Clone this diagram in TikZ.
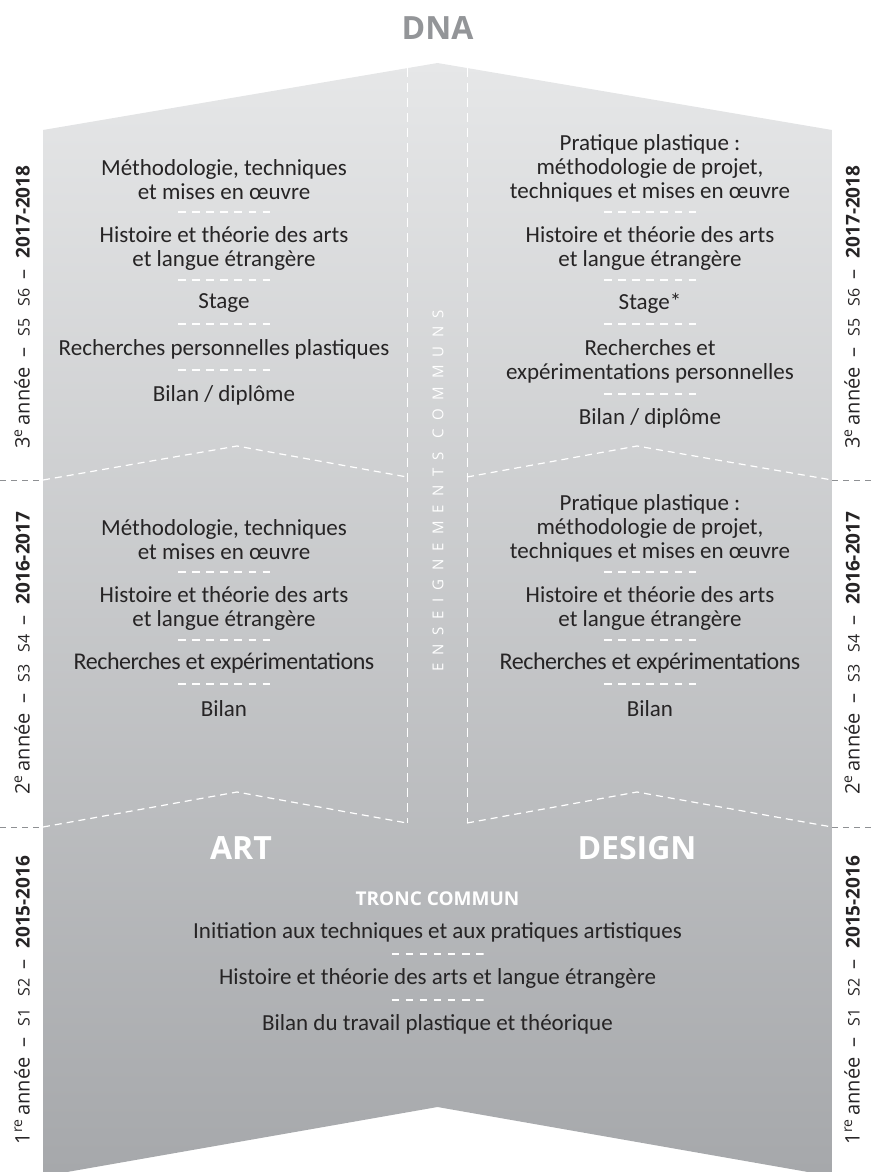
\documentclass[tikz,border=0pt]{standalone}
\usepackage{fontspec}
\usepackage{xcolor}
\setmainfont{Carlito}
\newfontfamily\headfont{Open Sans}
\newfontfamily\spacedfont[LetterSpace=55]{Open Sans}
\newfontfamily\tightfont[LetterSpace=-2]{Carlito}
\usepackage{tikz}
\usetikzlibrary{calc, positioning}

\definecolor{shapeTop}{HTML}{E6E7E8}
\definecolor{shapeBottom}{HTML}{A6A8AB}
\definecolor{textDark}{HTML}{262425}
\definecolor{dnaGray}{HTML}{939598}
\definecolor{bandGray}{HTML}{8E9093}

\tikzset{item/.style={font=\fontsize{23}{24}\selectfont, text=textDark, align=center, inner sep=0pt},
tight item/.style={item, font=\tightfont\fontsize{24}{24}\selectfont},
sep/.style={minimum width=92pt, minimum height=3pt, inner sep=0pt,
  path picture={\draw[white, line width=1.2pt, dash pattern=on 7.5pt off 6.6pt]
    (path picture bounding box.west) -- (path picture bounding box.east);}},
chevron line/.style={white, line width=1.2pt, dash pattern=on 7pt off 5pt},
axis line/.style={white, line width=1pt, dash pattern=on 9pt off 6pt},
band line/.style={bandGray, line width=1pt, dash pattern=on 6pt off 5pt},
side label/.style={rotate=90, inner sep=0pt, text=textDark, font=\headfont\fontsize{20}{20}\selectfont},
title/.style={inner sep=0pt, font=\headfont\fontsize{32}{32}\selectfont\bfseries}}

\newcommand{\yearlabel}[4]{#1\textsuperscript{#2}\,année\hspace{10pt}–\hspace{11pt}{\fontsize{16}{16}\selectfont #3}\hspace{9pt}–\hspace{11pt}{\fontsize{19}{19}\selectfont\bfseries #4}}

\begin{document}
\begin{tikzpicture}[x=1pt,y=-1pt]
\useasboundingbox (0,0) rectangle (871,1172);

%DRAWING SHAPE
  \coordinate (topL) at (43,130);
  \coordinate (apexT) at (437.5,63);
  \coordinate (topR) at (832,130);
  \coordinate (botR) at (832,1172);
  \coordinate (notchR) at (808,1172);
  \coordinate (apexB) at (437.5,1107);
  \coordinate (notchL) at (67,1172);
  \coordinate (botL) at (43,1172);
  \shade[top color=shapeTop, bottom color=shapeBottom]
    (topL) -- (apexT) -- (topR) -- (botR) -- (notchR) -- (apexB) -- (notchL) -- (botL) -- cycle;

%DRAWING DASHED LINES
  \coordinate (axisLTop) at (407,68);
  \coordinate (axisLBot) at (407,823);
  \coordinate (axisRTop) at (467,68);
  \coordinate (axisRBot) at (467,823);
  \draw[axis line] (axisLTop) -- (axisLBot);
  \draw[axis line] (axisRTop) -- (axisRBot);

  \coordinate (band3L) at (0,480);
  \coordinate (chev3La) at (43,480);
  \coordinate (chev3Lb) at (237,446);
  \coordinate (chev3Lc) at (407,477);
  \coordinate (chev3Ra) at (467,477);
  \coordinate (chev3Rb) at (637,446);
  \coordinate (chev3Rc) at (832,480);
  \coordinate (band3R) at (871,480);
  \draw[band line] (band3L) -- (chev3La);
  \draw[chevron line] (chev3La) -- (chev3Lb) -- (chev3Lc);
  \draw[chevron line] (chev3Ra) -- (chev3Rb) -- (chev3Rc);
  \draw[band line] (chev3Rc) -- (band3R);

  \coordinate (band2L) at (0,827);
  \coordinate (chev2La) at (43,827);
  \coordinate (chev2Lb) at (237,792);
  \coordinate (chev2Lc) at (407,823);
  \coordinate (chev2Ra) at (467,823);
  \coordinate (chev2Rb) at (637,792);
  \coordinate (chev2Rc) at (832,827);
  \coordinate (band2R) at (871,827);
  \draw[band line] (band2L) -- (chev2La);
  \draw[chevron line] (chev2La) -- (chev2Lb) -- (chev2Lc);
  \draw[chevron line] (chev2Ra) -- (chev2Rb) -- (chev2Rc);
  \draw[band line] (chev2Rc) -- (band2R);

%DRAWING TITLES
  \node[title,text=dnaGray] (dna) at (437.5,28) {DNA};
  \node[title,text=white] (art) at (241,848) {ART};
  \node[title,text=white] (design) at (637,848) {DESIGN};
  \node[rotate=90,anchor=east,inner sep=0pt,text=white,font=\spacedfont\fontsize{15}{15}\selectfont] (communs) at (438,310) {ENSEIGNEMENTS\hspace{14pt}COMMUNS};

%DRAWING YEAR 3
  \node[item] (art3Meth) at (224,180) {Méthodologie, techniques\\et mises en œuvre};
  \node[sep] (art3SepA) at (224,212) {};
  \node[item] (art3Hist) at (224,248.5) {Histoire et théorie des arts\\et langue étrangère};
  \node[sep] (art3SepB) at (224,280) {};
  \node[item] (art3Stage) at (224,303) {Stage};
  \node[sep] (art3SepC) at (224,324) {};
  \node[item] (art3Rech) at (224,349) {Recherches personnelles plastiques};
  \node[sep] (art3SepD) at (224,370) {};
  \node[item] (art3Bilan) at (224,395) {Bilan / diplôme};

  \node[item] (des3Prat) at (650,168) {Pratique plastique~:\\méthodologie de projet,\\techniques et mises en œuvre};
  \node[sep] (des3SepA) at (650,212) {};
  \node[item] (des3Hist) at (650,248.5) {Histoire et théorie des arts\\et langue étrangère};
  \node[sep] (des3SepB) at (650,280) {};
  \node[item] (des3Stage) at (650,303) {Stage*};
  \node[sep] (des3SepC) at (650,324) {};
  \node[item] (des3Rech) at (650,361) {Recherches et\\expérimentations personnelles};
  \node[sep] (des3SepD) at (650,394) {};
  \node[item] (des3Bilan) at (650,418) {Bilan / diplôme};

%DRAWING YEAR 2
  \node[item] (art2Meth) at (224,540) {Méthodologie, techniques\\et mises en œuvre};
  \node[sep] (art2SepA) at (224,572) {};
  \node[item] (art2Hist) at (224,608.5) {Histoire et théorie des arts\\et langue étrangère};
  \node[sep] (art2SepB) at (224,640) {};
  \node[tight item] (art2Rech) at (224,663) {Recherches et expérimentations};
  \node[sep] (art2SepC) at (224,684) {};
  \node[item] (art2Bilan) at (224,709) {Bilan};

  \node[item] (des2Prat) at (650,528) {Pratique plastique~:\\méthodologie de projet,\\techniques et mises en œuvre};
  \node[sep] (des2SepA) at (650,572) {};
  \node[item] (des2Hist) at (650,608.5) {Histoire et théorie des arts\\et langue étrangère};
  \node[sep] (des2SepB) at (650,640) {};
  \node[tight item] (des2Rech) at (650,663) {Recherches et expérimentations};
  \node[sep] (des2SepC) at (650,684) {};
  \node[item] (des2Bilan) at (650,709) {Bilan};

%DRAWING YEAR 1
  \node[inner sep=0pt,text=white,font=\headfont\fontsize{19}{19}\selectfont\bfseries] (tronc) at (437.5,899) {TRONC COMMUN};
  \node[item] (tronc1Init) at (437.5,932) {Initiation aux techniques et aux pratiques artistiques};
  \node[sep] (tronc1SepA) at (437.5,954) {};
  \node[item] (tronc1Hist) at (437.5,978) {Histoire et théorie des arts et langue étrangère};
  \node[sep] (tronc1SepB) at (437.5,1000) {};
  \node[item] (tronc1Bilan) at (437.5,1024) {Bilan du travail plastique et théorique};

%DRAWING YEAR LABELS
  \node[side label] (year3L) at (22,307) {\yearlabel{3}{e}{S5\hspace{12pt}S6}{2017-2018}};
  \node[side label] (year2L) at (22,653) {\yearlabel{2}{e}{S3\hspace{12pt}S4}{2016-2017}};
  \node[side label] (year1L) at (22,1000) {\yearlabel{1}{re}{S1\hspace{12pt}S2}{2015-2016}};
  \node[side label] (year3R) at (852,307) {\yearlabel{3}{e}{S5\hspace{12pt}S6}{2017-2018}};
  \node[side label] (year2R) at (852,653) {\yearlabel{2}{e}{S3\hspace{12pt}S4}{2016-2017}};
  \node[side label] (year1R) at (852,1000) {\yearlabel{1}{re}{S1\hspace{12pt}S2}{2015-2016}};

\end{tikzpicture}
\end{document}
